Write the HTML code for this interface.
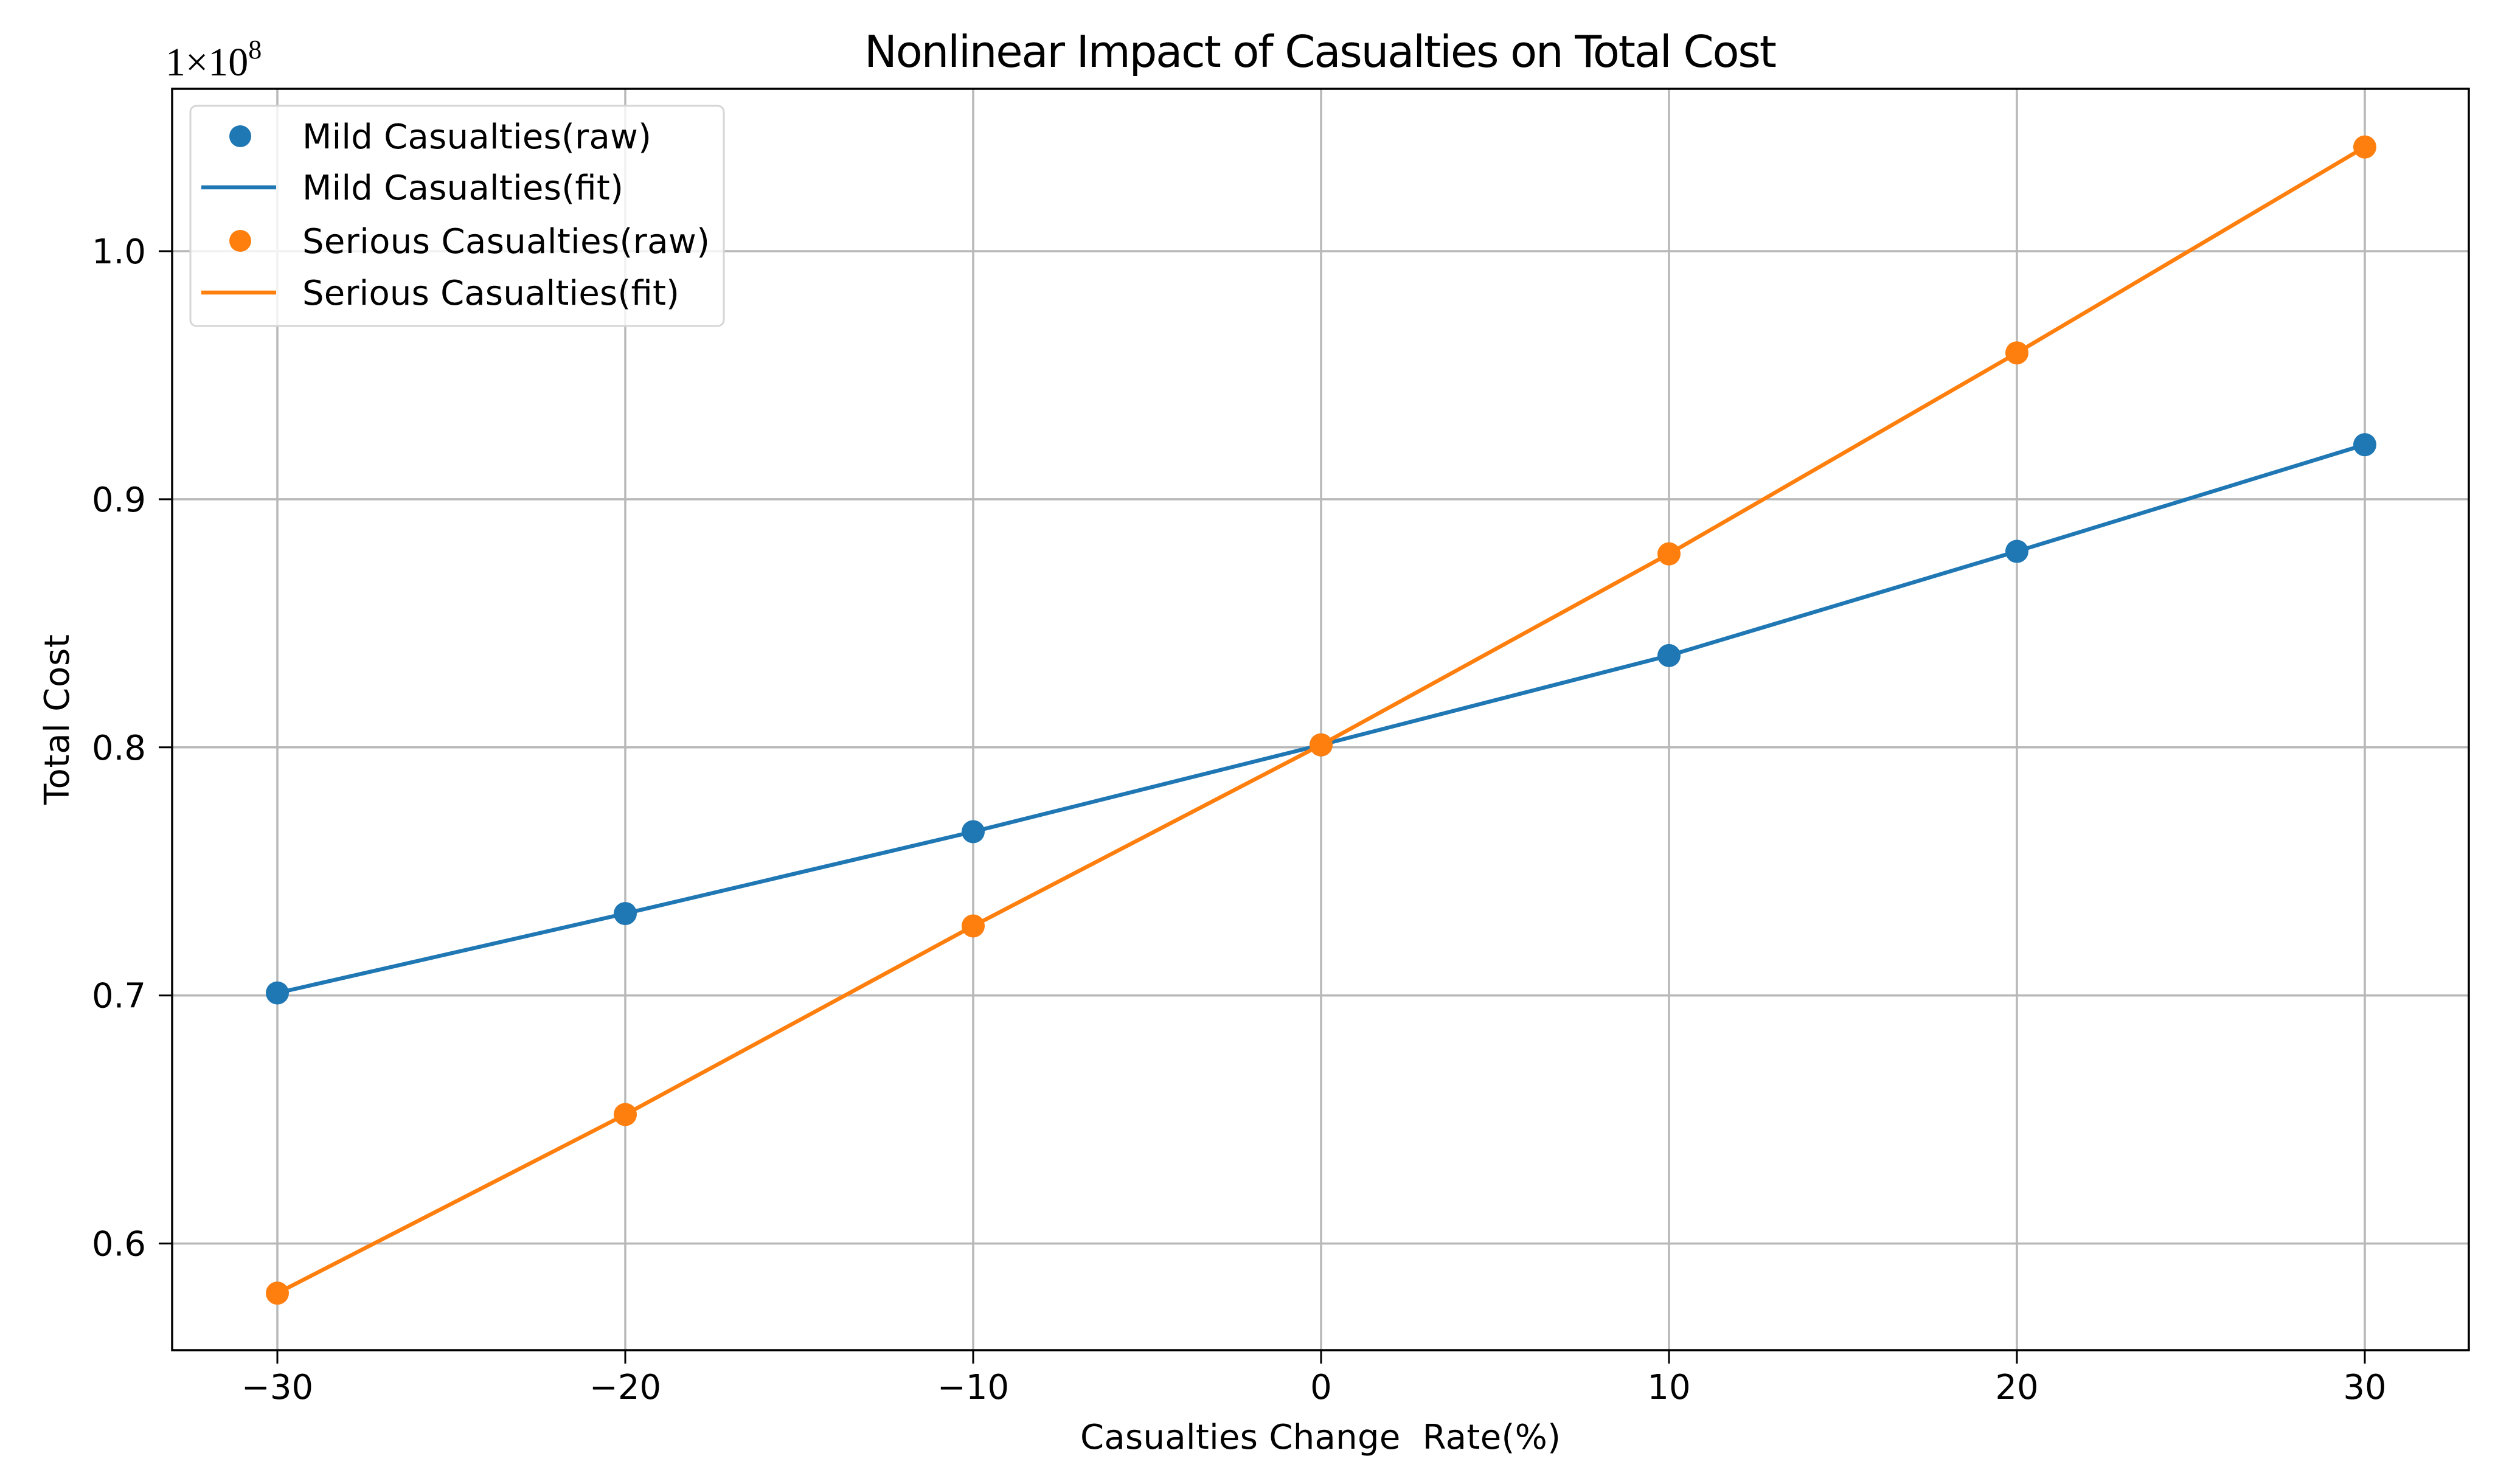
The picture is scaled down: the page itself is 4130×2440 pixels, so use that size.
<!DOCTYPE html>
<html><head><meta charset="utf-8"><style>html,body{margin:0;padding:0;background:#fff}svg{display:block}text{font-family:"DejaVu Sans","Liberation Sans",sans-serif;fill:#000}</style></head>
<body>
<svg id="chart" width="4130" height="2440" viewBox="0 0 4130 2440" xmlns="http://www.w3.org/2000/svg">
<rect width="4130" height="2440" fill="#fff"/>
<g id="grid"></g>
<g id="series"></g>
<rect x="283" y="146" width="3776" height="2074" fill="none" stroke="#000" stroke-width="3.5"/>
<g id="ticks"></g>
<text x="2171" y="110" font-size="72" text-anchor="middle" textLength="1500">Nonlinear Impact of Casualties on Total Cost</text>
<text x="2171" y="2382" font-size="56" text-anchor="middle" textLength="790">Casualties Change&#160; Rate(%)</text>
<text transform="translate(113,1183) rotate(-90)" font-size="56" text-anchor="middle" textLength="280">Total Cost</text>
<text x="272" y="124" font-size="66" style="font-family:'Liberation Serif',serif">1×10<tspan font-size="44" dy="-28">8</tspan></text>
<g>
<rect x="313" y="174" width="877" height="362" rx="10" fill="#fff" fill-opacity="0.8" stroke="#d6d6d6" stroke-width="3"/>
<g><circle cx="395" cy="224" r="18" fill="#1f77b4"/><text x="497" y="244" font-size="56" textLength="574">Mild Casualties(raw)</text></g>
<g><line x1="331" y1="308" x2="454" y2="308" stroke="#1f77b4" stroke-width="6.5"/><text x="497" y="328" font-size="56" textLength="528">Mild Casualties(fit)</text></g>
<g><circle cx="395" cy="396" r="18" fill="#ff7f0e"/><text x="497" y="416" font-size="56" textLength="670">Serious Casualties(raw)</text></g>
<g><line x1="331" y1="481" x2="454" y2="481" stroke="#ff7f0e" stroke-width="6.5"/><text x="497" y="501" font-size="56" textLength="620">Serious Casualties(fit)</text></g>
</g>
</svg>
<script>
const categories = [-30, -20, -10, 0, 10, 20, 30];
const mildValues = [0.701, 0.733, 0.766, 0.801, 0.837, 0.879, 0.922];
const seriousValues = [0.580, 0.652, 0.728, 0.801, 0.878, 0.959, 1.042];
const xTickLabels = ["\u221230", "\u221220", "\u221210", "0", "10", "20", "30"];
const xTickValues = [-30, -20, -10, 0, 10, 20, 30];
const yTickValues = [0.6, 0.7, 0.8, 0.9, 1.0];
const yTickLabels = ["0.6", "0.7", "0.8", "0.9", "1.0"];

const NS = "http://www.w3.org/2000/svg";
const X0 = 283, X1 = 4059, Y0 = 146, Y1 = 2220;
function xs(v) { return 456 + (v + 30) * 57.2; }
function ys(v) { return 413 + (1.0 - v) * 4079; }
function mk(tag, attrs, parent) {
  const el = document.createElementNS(NS, tag);
  for (const k in attrs) el.setAttribute(k, attrs[k]);
  parent.appendChild(el);
  return el;
}
const grid = document.getElementById('grid');
const ticks = document.getElementById('ticks');
const series = document.getElementById('series');

xTickValues.forEach((v, i) => {
  const x = xs(v);
  const g = mk('line', {x1: x, y1: Y0, x2: x, y2: Y1, stroke: '#b8b8b8', 'stroke-width': 3.5}, grid);
  
  
  const t = mk('line', {x1: x, y1: Y1, x2: x, y2: Y1 + 22, stroke: '#000', 'stroke-width': 3}, ticks);
  
  
  const l = mk('text', {x: x, y: 2300, 'font-size': 56, 'text-anchor': 'middle'}, ticks);
  l.textContent = xTickLabels[i];
  
  
});
yTickValues.forEach((v, i) => {
  const y = ys(v);
  const g = mk('line', {x1: X0, y1: y, x2: X1, y2: y, stroke: '#b8b8b8', 'stroke-width': 3.5}, grid);
  
  
  const t = mk('line', {x1: X0 - 22, y1: y, x2: X0, y2: y, stroke: '#000', 'stroke-width': 3}, ticks);
  
  
  const l = mk('text', {x: 240, y: y + 20, 'font-size': 56, 'text-anchor': 'end'}, ticks);
  l.textContent = yTickLabels[i];
  
  
});

function drawSeries(vals, color, name) {
  const pts = categories.map((c, i) => xs(c) + ',' + ys(vals[i])).join(' ');
  const pl = mk('polyline', {points: pts, fill: 'none', stroke: color, 'stroke-width': 6.5, 'stroke-linejoin': 'round'}, series);
  
  
  categories.forEach((c, i) => {
    const p = mk('circle', {cx: xs(c), cy: ys(vals[i]), r: 19, fill: color}, series);
    
    
  });
}
drawSeries(mildValues, '#1f77b4', 'mild');
drawSeries(seriousValues, '#ff7f0e', 'serious');
</script>
</body></html>
